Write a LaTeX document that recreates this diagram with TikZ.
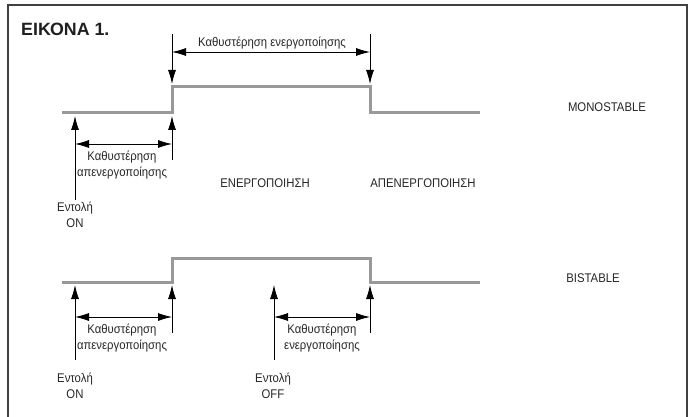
\documentclass[tikz,border=0pt]{standalone}
\usepackage{fontspec}
\setmainfont[FakeStretch=0.9]{Liberation Sans}
\newfontfamily\titlefont{Liberation Sans}
\usetikzlibrary{arrows.meta}
\begin{document}
\begin{tikzpicture}[x=1pt,y=-1pt,
  wave/.style={draw=black!40, line width=3pt, line join=miter},
  arr/.style={draw=black, line width=0.8pt, -{Latex[length=14pt,width=8pt]}},
  darr/.style={draw=black, line width=0.8pt, {Latex[length=14pt,width=8pt]}-{Latex[length=14pt,width=8pt]}},
  lbl/.style={font=\fontsize{12.6}{16}\selectfont, text=black!85, inner sep=0pt, align=center},
  frame/.style={draw=black!75, line width=1.3pt}]
\useasboundingbox (0,0) rectangle (694,417);
\draw[frame] (8,418) -- (8,5) -- (687,5) -- (687,418);
\node[anchor=west, font=\titlefont\fontsize{17.8}{20}\selectfont\bfseries, text=black!88, inner sep=0pt] (title) at (21,29) {ΕΙΚΟΝΑ 1.};

% ---------- MONOSTABLE ----------
\coordinate (m0) at (62,113);
\coordinate (m1) at (172,113);
\coordinate (m2) at (172,87);
\coordinate (m3) at (370,87);
\coordinate (m4) at (370,113);
\coordinate (m5) at (480,113);
\draw[wave] (m0) -- (m1) -- (m2) -- (m3) -- (m4) -- (m5);

\coordinate (ta1) at (172,34);  \coordinate (tt1) at (172,84);
\coordinate (ta2) at (370,34);  \coordinate (tt2) at (370,84);
\draw[arr] (ta1) -- (tt1);
\draw[arr] (ta2) -- (tt2);
\coordinate (th1) at (172,52); \coordinate (th2) at (370,52);
\draw[darr] (th1) -- (th2);
\node[lbl] (ldelon) at (272,43) {Καθυστέρηση ενεργοποίησης};

\coordinate (ua1) at (75,200);  \coordinate (ut1) at (75,116);
\coordinate (ua2) at (172,160); \coordinate (ut2) at (172,116);
\draw[arr] (ua1) -- (ut1);
\draw[arr] (ua2) -- (ut2);
\coordinate (uh1) at (75,144); \coordinate (uh2) at (172,144);
\draw[darr] (uh1) -- (uh2);
\node[lbl] (ldeloff1) at (122,165) {Καθυστέρηση\\απενεργοποίησης};
\node[lbl] (on1) at (75,215) {Εντολή\\ON};
\node[lbl] (energ) at (265,183) {ΕΝΕΡΓΟΠΟΙΗΣΗ};
\node[lbl] (apenerg) at (423,183) {ΑΠΕΝΕΡΓΟΠΟΙΗΣΗ};
\node[lbl] (mono) at (607,107) {MONOSTABLE};

% ---------- BISTABLE ----------
\coordinate (b0) at (62,282);
\coordinate (b1) at (172,282);
\coordinate (b2) at (172,258);
\coordinate (b3) at (370,258);
\coordinate (b4) at (370,282);
\coordinate (b5) at (480,282);
\draw[wave] (b0) -- (b1) -- (b2) -- (b3) -- (b4) -- (b5);

\coordinate (ba1) at (75,360);  \coordinate (bt1) at (75,285);
\coordinate (ba2) at (172,333); \coordinate (bt2) at (172,285);
\coordinate (ba3) at (274,360); \coordinate (bt3) at (274,285);
\coordinate (ba4) at (370,333); \coordinate (bt4) at (370,285);
\draw[arr] (ba1) -- (bt1);
\draw[arr] (ba2) -- (bt2);
\draw[arr] (ba3) -- (bt3);
\draw[arr] (ba4) -- (bt4);
\coordinate (bh1) at (75,317);  \coordinate (bh2) at (172,317);
\coordinate (bh3) at (274,317); \coordinate (bh4) at (370,317);
\draw[darr] (bh1) -- (bh2);
\draw[darr] (bh3) -- (bh4);
\node[lbl] (ldeloff2) at (122,338) {Καθυστέρηση\\απενεργοποίησης};
\node[lbl] (ldelon2) at (322,338) {Καθυστέρηση\\ενεργοποίησης};
\node[lbl] (on2) at (75,386) {Εντολή\\ON};
\node[lbl] (off2) at (273,386) {Εντολή\\OFF};
\node[lbl] (bi) at (593,278) {BISTABLE};
\end{tikzpicture}
\end{document}
